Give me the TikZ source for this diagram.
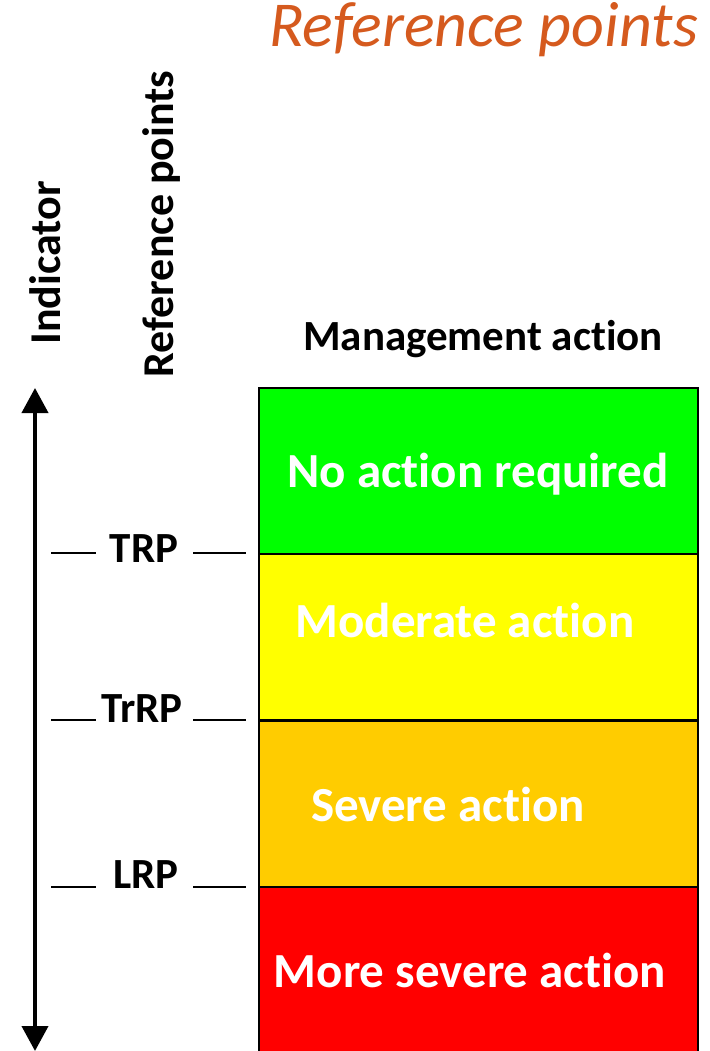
\documentclass[tikz,border=0pt]{standalone}
\usepackage{fontspec}
\setmainfont{Carlito}[Ligatures=NoCommon]
\usetikzlibrary{arrows.meta}
\definecolor{cgreen}{RGB}{0,255,0}
\definecolor{cyellow}{RGB}{255,255,0}
\definecolor{corange}{RGB}{255,204,0}
\definecolor{cred}{RGB}{255,0,0}
\definecolor{ctitle}{RGB}{213,90,30}
\tikzset{
  zone/.style={draw=black, line width=2pt, minimum width=439pt, minimum height=166pt, inner sep=0pt, outer sep=0pt},
  zonetext/.style={text=white, font=\fontsize{49}{50}\selectfont\bfseries, anchor=base, inner sep=0pt},
  rplabel/.style={font=\fontsize{43}{44}\selectfont\bfseries, anchor=base, inner sep=0pt},
  tick/.style={line width=2pt},
  axislabel/.style={font=\fontsize{44}{45}\selectfont\bfseries, anchor=base, rotate=90, inner sep=0pt},
}
\begin{document}
\begin{tikzpicture}[x=1pt,y=-1pt]
\useasboundingbox (0,0) rectangle (709,1051);
\clip (0,0) rectangle (709,1051);
% title
\node[text=ctitle, font=\fontsize{64}{65}\selectfont\itshape, anchor=base, inner sep=0pt] (title) at (483.5,47) {Reference points};
% axis labels
\node[axislabel] (ind) at (60,263) {Indicator};
\node[axislabel] (refp) at (173,224) {Reference points};
\node[font=\fontsize{43}{44}\selectfont\bfseries, anchor=base, inner sep=0pt] (mgmt) at (483,350) {Management action};
% zones
\node[zone, fill=cgreen]  (z1) at (478.5,471) {};
\node[zone, fill=cyellow] (z2) at (478.5,637) {};
\node[zone, fill=corange] (z3) at (478.5,803.5) {};
\node[zone, fill=cred]    (z4) at (478.5,970) {};
\node[zonetext] (t1) at (478,487) {No action required};
\node[zonetext] (t2) at (465,637) {Moderate action};
\node[zonetext] (t3) at (448,821) {Severe action};
\node[zonetext] (t4) at (470,987) {More severe action};
% axis arrow
\coordinate (atop) at (35,388);
\coordinate (abot) at (35,1051);
\draw[line width=4pt, {Triangle[width=26pt,length=25pt]}-{Triangle[width=26pt,length=25pt]}] (atop) -- (abot);
% reference point labels and ticks
\node[rplabel] (trp) at (144,562) {TRP};
\node[rplabel] (trrp) at (142,722) {TrRP};
\node[rplabel] (lrp) at (146,888) {LRP};
\coordinate (trpL1) at (51,553); \coordinate (trpL2) at (96,553);
\coordinate (trpR1) at (193,553); \coordinate (trpR2) at (246,553);
\coordinate (trrpL1) at (51,720); \coordinate (trrpL2) at (96,720);
\coordinate (trrpR1) at (193,720); \coordinate (trrpR2) at (246,720);
\coordinate (lrpL1) at (51,887); \coordinate (lrpL2) at (96,887);
\coordinate (lrpR1) at (193,887); \coordinate (lrpR2) at (246,887);
\draw[tick] (trpL1) -- (trpL2); \draw[tick] (trpR1) -- (trpR2);
\draw[tick] (trrpL1) -- (trrpL2); \draw[tick] (trrpR1) -- (trrpR2);
\draw[tick] (lrpL1) -- (lrpL2); \draw[tick] (lrpR1) -- (lrpR2);
\end{tikzpicture}
\end{document}
